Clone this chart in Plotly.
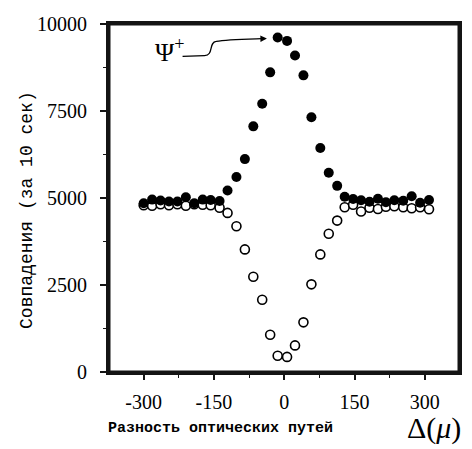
import plotly.graph_objects as go

# Optical path difference (micrometres)
delta = [-300, -282, -264, -246, -228, -210, -192, -174, -157, -138,
         -121, -102, -84, -66, -47, -30, -14, 6, 23, 41,
         58, 77, 95, 113, 129, 147, 164, 182, 200, 217,
         235, 254, 272, 290, 309]

# Coincidences, filled circles (psi+)
psi_plus = [4849, 4954, 4926, 4897, 4897, 5020, 4849, 4954, 4943, 4914,
            5215, 5603, 6118, 7059, 7708, 8611, 9613, 9514, 9097, 8524,
            7321, 6439, 5728, 5349, 5035, 4971, 4934, 4892, 4977, 4877,
            4934, 4920, 5050, 4863, 4943]

# Coincidences, open circles
psi_minus = [4792, 4778, 4820, 4792, 4820, 4778, 4820, 4806, 4792, 4720,
             4572, 4187, 3523, 2738, 2075, 1070, 468, 434, 765, 1427,
             2519, 3380, 3973, 4350, 4735, 4806, 4612, 4720, 4686, 4749,
             4763, 4735, 4706, 4735, 4678]

x_ticks = [-300, -150, 0, 150, 300]
y_ticks = [0, 2500, 5000, 7500, 10000]

fig = go.Figure()
fig.add_trace(go.Scatter(
    x=delta, y=psi_minus, mode="markers",
    marker=dict(symbol="circle", size=9, color="white",
                line=dict(color="black", width=1.6)),
    showlegend=False))
fig.add_trace(go.Scatter(
    x=delta, y=psi_plus, mode="markers",
    marker=dict(symbol="circle", size=10, color="black",
                line=dict(color="black", width=0)),
    showlegend=False))

serif = "Liberation Serif"
mono = "Liberation Mono"
frame = "rgb(20,20,20)"

fig.update_layout(
    width=472, height=449,
    margin=dict(l=109, r=10, t=24, b=77),
    paper_bgcolor="white", plot_bgcolor="white",
    xaxis=dict(range=[-374, 373], tickvals=x_ticks,
               ticktext=[str(v) for v in x_ticks],
               ticks="outside", ticklen=5, tickwidth=1.5, tickcolor=frame,
               ticklabelstandoff=5,
               minor=dict(dtick=75, tick0=0, ticks="outside", ticklen=3,
                          tickwidth=1, tickcolor=frame),
               showline=True, linecolor=frame, linewidth=3, mirror=True,
               showgrid=False, zeroline=False,
               tickfont=dict(family=serif, size=20, color="black")),
    yaxis=dict(range=[0, 10000], tickvals=y_ticks,
               ticktext=[str(v) for v in y_ticks],
               ticks="outside", ticklen=6, tickwidth=1.5, tickcolor=frame,
               ticklabelstandoff=9,
               minor=dict(dtick=1250, tick0=0, ticks="outside", ticklen=3,
                          tickwidth=1, tickcolor=frame),
               showline=True, linecolor=frame, linewidth=3, mirror=True,
               showgrid=False, zeroline=False,
               tickfont=dict(family=serif, size=20, color="black")),
)

# Frame box
fig.add_shape(type="rect", xref="paper", yref="paper", x0=0, x1=1, y0=0, y1=1,
              line=dict(color=frame, width=3), layer="above")

# Axis titles
fig.add_annotation(xref="paper", yref="paper", x=-0.235, y=0.465,
                   xanchor="center", yanchor="middle",
                   text="Совпадения (за 10 сек)", textangle=-90,
                   showarrow=False,
                   font=dict(family=mono, size=18, color="black"))
fig.add_annotation(xref="paper", yref="paper", x=0.319, y=-0.163,
                   xanchor="center", yanchor="middle",
                   text="<b>Разность оптических путей</b>", showarrow=False,
                   font=dict(family=mono, size=15, color="black"))
fig.add_annotation(xref="paper", yref="paper", x=0.928, y=-0.16,
                   xanchor="center", yanchor="middle",
                   text="Δ(<i>μ</i>)", showarrow=False,
                   font=dict(family=serif, size=30, color="black"))

# Psi+ label with curved arrow
fig.add_annotation(x=-245, y=9250, text="Ψ<sup>+</sup>", showarrow=False,
                   xanchor="center", yanchor="middle",
                   font=dict(family=serif, size=26, color="black"))
fig.add_shape(type="path",
              path="M -217,9070 L -170,9090 C -150,9100 -162,9470 -145,9500 "
                   "C -125,9550 -90,9560 -48,9578",
              line=dict(color="black", width=1.3), xref="x", yref="y")
fig.add_annotation(x=-37, y=9584, ax=-52, ay=9578, axref="x", ayref="y",
                   text="", showarrow=True, arrowhead=2, arrowsize=1,
                   arrowwidth=1.3, arrowcolor="black")

fig.write_html("out.html", config={"displayModeBar": False},
               post_script="document.body.style.margin='0px';")
